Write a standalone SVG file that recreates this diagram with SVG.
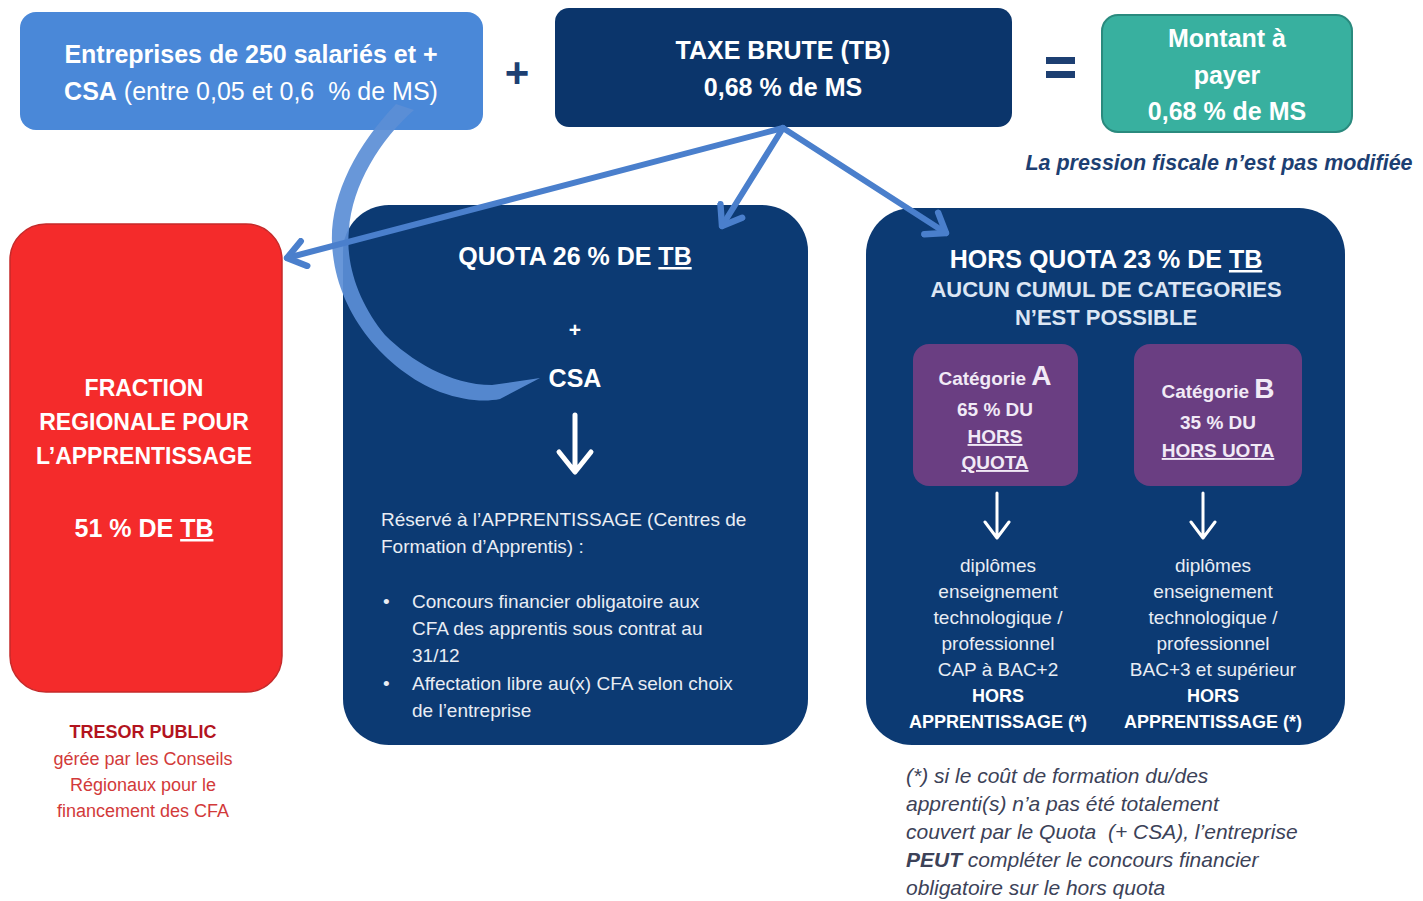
<svg xmlns="http://www.w3.org/2000/svg" width="1423" height="901" viewBox="0 0 1423 901">
<style>
text{font-family:"Liberation Sans",Arial,sans-serif;}
.h{font-size:25px;font-weight:bold;fill:#ffffff;text-anchor:middle;}
.h21{font-size:21px;font-weight:bold;fill:#ffffff;text-anchor:middle;}
.h23{font-size:23px;font-weight:bold;fill:#ffffff;text-anchor:middle;}
.h22{font-size:22px;font-weight:bold;fill:#dce6f4;text-anchor:middle;}
.body{font-size:19px;fill:#e9edf4;}
.col{font-size:19px;fill:#e9edf4;text-anchor:middle;}
.colb{font-size:18px;font-weight:bold;fill:#ffffff;text-anchor:middle;}
.cat{font-size:19px;font-weight:bold;fill:#f1eaf6;text-anchor:middle;}
.foot{font-size:21px;font-style:italic;fill:#3c4258;}
.red{font-size:18px;fill:#d23a3a;text-anchor:middle;}
.u{text-decoration:underline;}
.conn{fill:none;stroke:#4a7fcc;stroke-width:6;stroke-linecap:round;}
.dn{fill:none;stroke:#ffffff;stroke-linecap:round;stroke-linejoin:round;}
</style>
<defs>
<marker id="chev" viewBox="0 0 20 20" refX="15" refY="10" markerWidth="32" markerHeight="32" markerUnits="userSpaceOnUse" orient="auto">
<path d="M4,2 L15,10 L4,18" fill="none" stroke="#4a7fcc" stroke-width="4" stroke-linecap="round" stroke-linejoin="round"/>
</marker>
</defs>
<rect width="1423" height="901" fill="#ffffff"/>

<g id="entreprises">
<rect x="20" y="12" width="463" height="118" rx="16" fill="#4a88d8"/>
<text x="251" y="63" class="h">Entreprises de 250 salariés et +</text>
<text x="251" y="100" class="h"><tspan>CSA</tspan><tspan font-weight="normal"> (entre 0,05 et 0,6&#160; % de MS)</tspan></text>
</g>

<text id="plus" x="517" y="87" font-size="42" font-weight="bold" fill="#1d3f72" text-anchor="middle">+</text>

<g id="taxe-brute">
<rect x="555" y="8" width="457" height="119" rx="14" fill="#0b356b"/>
<text x="783" y="59" class="h">TAXE BRUTE (TB)</text>
<text x="783" y="96" class="h">0,68 % de MS</text>
</g>

<g id="egal">
<rect x="1046" y="57" width="29" height="7" fill="#1d3f72"/>
<rect x="1046" y="71" width="29" height="7" fill="#1d3f72"/>
</g>

<g id="montant">
<rect x="1102" y="15" width="250" height="117" rx="16" fill="#38b09f" stroke="#2a8a7e" stroke-width="2"/>
<text x="1227" y="47" class="h">Montant à</text>
<text x="1227" y="84" class="h">payer</text>
<text x="1227" y="120" class="h">0,68 % de MS</text>
</g>

<text id="pression" x="1219" y="170" font-size="21.5" font-weight="bold" font-style="italic" fill="#1d3f72" text-anchor="middle">La pression fiscale n’est pas modifiée</text>

<g id="fraction-regionale">
<rect x="10" y="224" width="272" height="468" rx="36" fill="#f42b2b" stroke="#c52a2a" stroke-width="1.5"/>
<text x="144" y="396" class="h23">FRACTION</text>
<text x="144" y="430" class="h23">REGIONALE POUR</text>
<text x="144" y="464" class="h23">L’APPRENTISSAGE</text>
<text x="144" y="537" class="h">51 % DE <tspan class="u">TB</tspan></text>
</g>

<g id="tresor-public">
<text x="143" y="738" class="red" font-weight="bold" style="fill:#b3141e">TRESOR PUBLIC</text>
<text x="143" y="765" class="red">gérée par les Conseils</text>
<text x="143" y="791" class="red">Régionaux pour le</text>
<text x="143" y="817" class="red">financement des CFA</text>
</g>

<g id="quota">
<rect x="343" y="205" width="465" height="540" rx="46" fill="#0c3a73"/>
<text x="575" y="265" class="h">QUOTA 26 % DE <tspan class="u">TB</tspan></text>
<text x="575" y="337" class="h21">+</text>
<text x="575" y="387" class="h">CSA</text>
<path class="dn" stroke-width="5" d="M575,415 L575,470 M559,452 L575,472 L591,452"/>
<text x="381" y="526" class="body">Réservé à l’APPRENTISSAGE (Centres de</text>
<text x="381" y="553" class="body">Formation d’Apprentis) :</text>
<text x="383" y="608" class="body">•</text>
<text x="412" y="608" class="body">Concours financier obligatoire aux</text>
<text x="412" y="635" class="body">CFA des apprentis sous contrat au</text>
<text x="412" y="662" class="body">31/12</text>
<text x="383" y="690" class="body">•</text>
<text x="412" y="690" class="body">Affectation libre au(x) CFA selon choix</text>
<text x="412" y="717" class="body">de l’entreprise</text>
</g>

<g id="hors-quota">
<rect x="866" y="208" width="479" height="537" rx="46" fill="#0c3a73"/>
<text x="1106" y="268" class="h">HORS QUOTA 23 % DE <tspan class="u">TB</tspan></text>
<text x="1106" y="297" class="h22">AUCUN CUMUL DE CATEGORIES</text>
<text x="1106" y="325" class="h22">N’EST POSSIBLE</text>
</g>

<g id="categorie-a">
<rect x="913" y="344" width="165" height="142" rx="16" fill="#6a3e82"/>
<text x="995" y="385" class="cat">Catégorie <tspan style="font-size:28px">A</tspan></text>
<text x="995" y="416" class="cat">65 % DU</text>
<text x="995" y="443" class="cat u">HORS</text>
<text x="995" y="469" class="cat u">QUOTA</text>
</g>

<g id="categorie-b">
<rect x="1134" y="344" width="168" height="142" rx="16" fill="#6a3e82"/>
<text x="1218" y="398" class="cat">Catégorie <tspan style="font-size:28px">B</tspan></text>
<text x="1218" y="429" class="cat">35 % DU</text>
<text x="1218" y="457" class="cat u">HORS UOTA</text>
</g>

<g id="texte-a">
<path class="dn" stroke-width="3" d="M997,493 L997,536 M985,522 L997,538 L1009,522"/>
<text x="998" y="572" class="col">diplômes</text>
<text x="998" y="598" class="col">enseignement</text>
<text x="998" y="624" class="col">technologique /</text>
<text x="998" y="650" class="col">professionnel</text>
<text x="998" y="676" class="col">CAP à BAC+2</text>
<text x="998" y="702" class="colb">HORS</text>
<text x="998" y="728" class="colb">APPRENTISSAGE (*)</text>
</g>

<g id="texte-b">
<path class="dn" stroke-width="3" d="M1203,493 L1203,536 M1191,522 L1203,538 L1215,522"/>
<text x="1213" y="572" class="col">diplômes</text>
<text x="1213" y="598" class="col">enseignement</text>
<text x="1213" y="624" class="col">technologique /</text>
<text x="1213" y="650" class="col">professionnel</text>
<text x="1213" y="676" class="col">BAC+3 et supérieur</text>
<text x="1213" y="702" class="colb">HORS</text>
<text x="1213" y="728" class="colb">APPRENTISSAGE (*)</text>
</g>

<g id="note">
<text x="906" y="783" class="foot">(*) si le coût de formation du/des</text>
<text x="906" y="811" class="foot">apprenti(s) n’a pas été totalement</text>
<text x="906" y="839" class="foot">couvert par le Quota&#160; (+ CSA), l’entreprise</text>
<text x="906" y="867" class="foot"><tspan font-weight="bold">PEUT</tspan> compléter le concours financier</text>
<text x="906" y="895" class="foot">obligatoire sur le hors quota</text>
</g>

<g id="connectors">
<path d="M396,104 C352,150 326,205 333,255 C340,315 385,370 440,392 C465,401 485,402 500,399 L540,378 L492,385 C450,385 410,360 385,335 C360,305 345,265 349,230 C352,185 380,140 414,110 Z" fill="#5b8ed6" fill-opacity="0.92"/>
<line class="conn" x1="783" y1="128" x2="287" y2="258" marker-end="url(#chev)"/>
<line class="conn" x1="783" y1="128" x2="722" y2="226" marker-end="url(#chev)"/>
<line class="conn" x1="783" y1="128" x2="946" y2="233" marker-end="url(#chev)"/>
</g>
</svg>
